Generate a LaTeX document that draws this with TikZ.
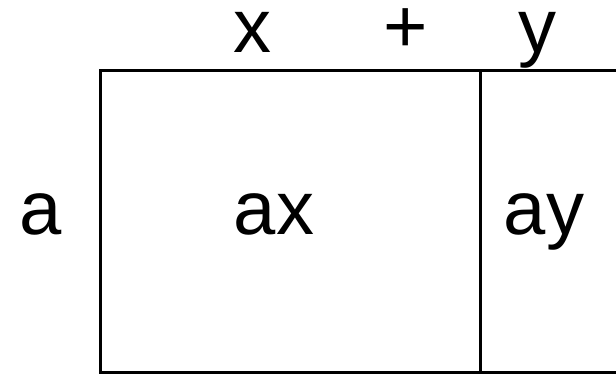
\documentclass[tikz,border=0pt]{standalone}
\usepackage{fontspec}
\setmainfont{Liberation Sans}
\begin{document}
\begin{tikzpicture}[x=1pt,y=-1pt,
  lbl/.style={inner sep=0pt,anchor=base,text height=42pt,text depth=16pt,font=\fontsize{76}{76}\selectfont},
  edge/.style={line width=3pt}]
\useasboundingbox (0,0) rectangle (616,374);
\coordinate (tl) at (100,71);
\coordinate (tr) at (630,71);
\coordinate (bl) at (100,372);
\coordinate (br) at (630,372);
\coordinate (mt) at (480,71);
\coordinate (mb) at (480,372);
\begin{scope}
\clip (0,0) rectangle (616,374);
\draw[edge] (tr) -- (tl) -- (bl) -- (br);
\draw[edge] (mt) -- (mb);
\end{scope}
\node[lbl] (x) at (252,53) {x};
\node[lbl] (plus) at (406,53) {+};
\node[lbl] (y) at (537,53) {y};
\node[lbl] (a) at (41,235) {a};
\node[lbl] (ax) at (274,235) {ax};
\node[lbl] (ay) at (544,235) {ay};
\end{tikzpicture}
\end{document}
